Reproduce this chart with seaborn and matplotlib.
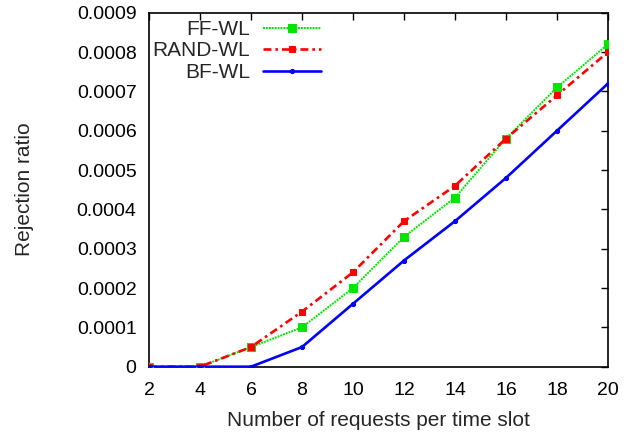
import matplotlib
matplotlib.use("Agg")
import matplotlib.pyplot as plt
import seaborn as sns
import pandas as pd

requests = [2, 4, 6, 8, 10, 12, 14, 16, 18, 20]
ff_wl = [0, 0, 0.00005, 0.0001, 0.0002, 0.00033, 0.00043, 0.00058, 0.00071, 0.00082]
rand_wl = [0, 0, 0.00005, 0.00014, 0.00024, 0.00037, 0.00046, 0.00058, 0.00069, 0.0008]
bf_wl = [0, 0, 0, 0.00005, 0.00016, 0.00027, 0.00037, 0.00048, 0.0006, 0.00072]
y_ticks = [0, 0.0001, 0.0002, 0.0003, 0.0004, 0.0005, 0.0006, 0.0007, 0.0008, 0.0009]
y_tick_labels = ["0", "0.0001", "0.0002", "0.0003", "0.0004", "0.0005",
                 "0.0006", "0.0007", "0.0008", "0.0009"]

sns.set_theme(style="white")
plt.rcParams["font.family"] = ["Liberation Sans", "DejaVu Sans"]

W, H = 639, 437
fig = plt.figure(figsize=(W / 100, H / 100), dpi=100)
ax = fig.add_axes([149 / W, 1 - 366.7 / H, (608 - 149) / W, (366.7 - 12.7) / H])

df = pd.DataFrame({"x": requests, "FF-WL": ff_wl, "RAND-WL": rand_wl, "BF-WL": bf_wl})

sns.lineplot(data=df, x="x", y="FF-WL", ax=ax, color="#00e600", linestyle=(0, (1, 0.5)),
             linewidth=1.4, marker="s", markersize=5.5, markeredgecolor="#00e600",
             label="FF-WL", zorder=3)
sns.lineplot(data=df, x="x", y="RAND-WL", ax=ax, color="#ff0000", linestyle=(0, (3, 1.5, 1, 1.5)),
             linewidth=1.9, marker="s", markersize=4.5, markeredgecolor="#ff0000",
             label="RAND-WL", zorder=4)
sns.lineplot(data=df, x="x", y="BF-WL", ax=ax, color="#0000ff", linestyle="-",
             linewidth=1.9, marker="o", markersize=3, markeredgecolor="#0000ff",
             label="BF-WL", zorder=5)

ax.set_xlim(2, 20)
ax.set_ylim(0, 0.0009)
ax.set_xticks(requests)
ax.set_yticks(y_ticks)
ax.set_yticklabels(y_tick_labels)
ax.tick_params(direction="in", top=True, right=True, length=5, width=1,
               labelsize=14, colors="black")
ax.tick_params(axis="y", pad=9)
ax.tick_params(axis="x", pad=11)
for s in ax.spines.values():
    s.set_color("black")
    s.set_linewidth(1.2)

ax.set_xlabel("Number of requests per time slot", fontsize=15, labelpad=9)
ax.set_ylabel("Rejection ratio", fontsize=15)
ax.yaxis.set_label_coords(24 / W, 1 - 189.5 / H, transform=fig.transFigure)
ax.yaxis.label.set_va("center")

leg = ax.legend(loc="upper right", bbox_to_anchor=(321 / W, 1 - 20 / H),
                bbox_transform=fig.transFigure, frameon=False,
                markerfirst=False, fontsize=15, handlelength=2.8,
                labelspacing=0.12, handletextpad=0.6, borderaxespad=0, borderpad=0)
for t in leg.get_texts():
    t.set_ha("right")

fig.savefig("out.png", dpi=100)
